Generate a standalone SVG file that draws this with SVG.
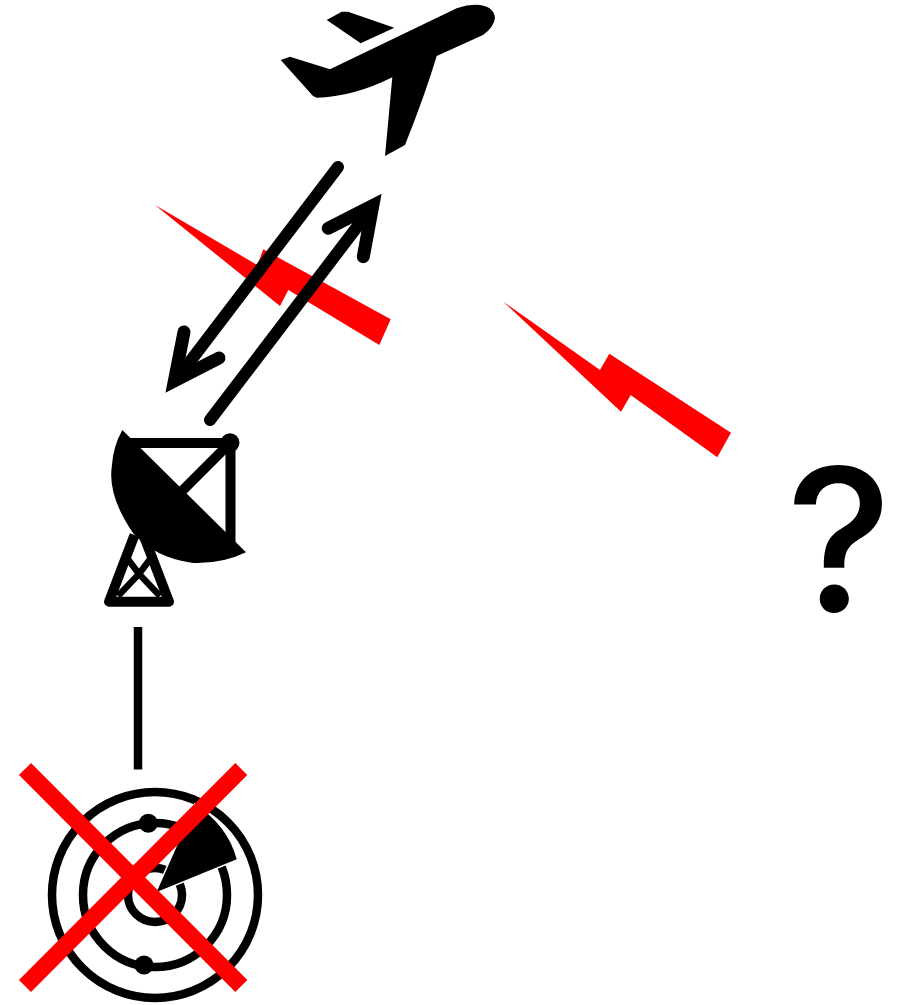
<svg xmlns="http://www.w3.org/2000/svg" width="902" height="1005" viewBox="0 0 902 1005">
<style>
.b{fill:#000}
.bolt{fill:#f00}
.ln{fill:none;stroke:#000;stroke-width:10}
.arrow{fill:none;stroke:#000;stroke-width:12;stroke-linecap:round;stroke-linejoin:miter;stroke-miterlimit:10}
.head{stroke-width:13}
.ring{fill:none;stroke:#000;stroke-width:8.5}
.q{font-family:"Inter",sans-serif;font-size:200px;font-weight:500;fill:#000;text-anchor:middle}
</style>
<rect width="902" height="1005" fill="#fff"/>
<g id="plane">
<path class="b" d="M280.7 60 L290 56.7 L330 69.3 L456.7 8.3 Q470 4 480 5 Q494 7 495 18 Q494 27 483 35 L436.7 56 Q425 95 405 145 L385 156 L392.3 77.3 Q353 97 316.7 97.7 L313 96 Z"/>
<path class="b" d="M326.7 20 L341.7 11.7 L348 11.7 L394.3 27.7 L360.7 43.3 Z"/>
</g>
<g id="bolt-1"><polygon class="bolt" points="155,205 257.3,265 263.3,249.3 390.7,319.3 379.3,345 288.3,290 280,306"/></g>
<g id="bolt-2"><polygon class="bolt" points="503.3,301.7 600,370 609.3,353.7 731,432.7 717.3,457.3 630.7,395 621,411.7"/></g>
<g id="connectors">
<g class="arrow">
<path d="M338 167 L176 380"/>
<path class="head" d="M184 332 L174.4 380.8 L219 358"/>
<path d="M210 420 L373 206"/>
<path class="head" d="M328.3 228.3 L372.8 205.5 L363.3 256.7"/>
</g>
<line x1="138" y1="627" x2="138" y2="769.5" stroke="#000" stroke-width="8.5"/>
</g>
<g id="dish">
<path class="ln" d="M125 443 H230.5 V545"/>
<path class="ln" d="M230 443 L180 493"/>
<circle class="b" cx="230" cy="442.7" r="9.5"/>
<path class="b" d="M122.3 430 L246 552.3 Q222 564 193 563 Q155 558 133 533 Q107 495 112 465 Q113 447 122.3 430 Z"/>
<path fill="none" stroke="#000" stroke-width="10" stroke-linejoin="round" d="M134.5 535 L109 601.7 H169 L143.5 535"/>
<path fill="none" stroke="#000" stroke-width="6.5" d="M118 596 L139 574 L149.5 560 M160 596 L139 574 L128.5 560"/>
</g>
<g id="radar">
<circle class="ring" cx="155" cy="895" r="103"/>
<circle class="ring" cx="155" cy="895" r="72"/>
<circle class="ring" cx="155" cy="895" r="27"/>
<path d="M156.7 892 L195 805 A89 89 0 0 1 236.7 859.3 Z" fill="#000" stroke="#fff" stroke-width="3" paint-order="stroke"/>
<circle class="b" cx="148.3" cy="823.3" r="9.5"/>
<circle class="b" cx="144" cy="965" r="9.5"/>
<path stroke="#f00" stroke-width="17" d="M25 769 L241.3 986 M241.3 769 L25 986"/>
</g>
<g id="question"><text class="q" x="839" y="612">?</text></g>
</svg>
